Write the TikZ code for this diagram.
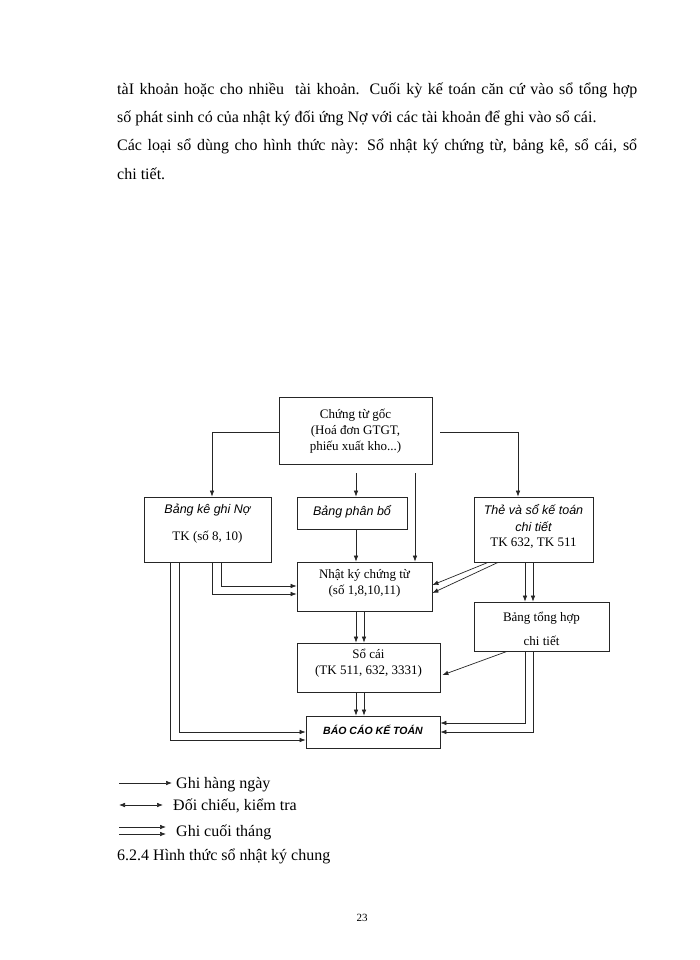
\documentclass[tikz,border=0pt]{standalone}
\usepackage{fontspec}
\setmainfont{Liberation Serif}
\newfontfamily\arialf{Liberation Sans}
\usetikzlibrary{arrows.meta,calc}
\begin{document}
\begin{tikzpicture}[x=1pt,y=-1pt,
  box/.style={draw=black!85, line width=0.8pt, inner sep=0pt},
  arr/.style={draw=black!85, line width=0.7pt, -{Latex[length=6pt,width=4.6pt]}},
  darr/.style={draw=black!85, line width=0.7pt, {Latex[length=6pt,width=4.6pt]}-{Latex[length=6pt,width=4.6pt]}},
  txt/.style={inner sep=0pt, align=center, font=\fontsize{13}{16}\selectfont},
  itx/.style={inner sep=0pt, align=center, font=\arialf\itshape\fontsize{12.5}{17}\selectfont},
  body/.style={inner sep=0pt, anchor=base west, font=\fontsize{16}{18}\selectfont}]
\useasboundingbox[fill=white] (0,0) rectangle (700,960);

% body text
\node[body] (p1) at (117,95) {\makebox[520pt][s]{tàI khoản hoặc cho nhiều\ \ tài khoản. Cuối kỳ kế toán căn cứ vào sổ tổng hợp}};
\node[body] (p2) at (117,123) {số phát sinh có của nhật ký đối ứng Nợ với các tài khoản để ghi vào sổ cái.};
\node[body] (p3) at (117,151) {\makebox[520pt][s]{Các loại sổ dùng cho hình thức này: Sổ nhật ký chứng từ, bảng kê, sổ cái, sổ}};
\node[body] (p4) at (117,179) {chi tiết.};

% boxes
\node[box, minimum width=153pt, minimum height=67pt] (ct) at (355.5,430.5) {};
\node[box, minimum width=127pt, minimum height=65pt] (bk) at (207.5,529.5) {};
\node[box, minimum width=110pt, minimum height=32pt] (pb) at (352,513) {};
\node[box, minimum width=119pt, minimum height=65pt] (the) at (533.5,529.5) {};
\node[box, minimum width=135pt, minimum height=49pt] (nk) at (364.5,586.5) {};
\node[box, minimum width=135pt, minimum height=49pt] (th) at (541.5,626.5) {};
\node[box, minimum width=143pt, minimum height=49pt] (sc) at (368.5,667.5) {};
\node[box, minimum width=134pt, minimum height=32pt] (bc) at (373,732) {};

% box texts
\node[txt] (ctt) at (355.5,431.5) {Chứng từ gốc\\(Hoá đơn GTGT,\\phiếu xuất kho...)};
\node[itx] (bkt1) at (207.5,510) {Bảng kê ghi Nợ};
\node[txt] (bkt2) at (207.5,537) {TK (số 8, 10)};
\node[itx] (pbt) at (352,512) {Bảng phân bổ};
\node[itx] (thet1) at (533.5,510) {Thẻ và sổ kế toán};
\node[itx] (thet2) at (533.5,527) {chi tiết};
\node[txt] (thet3) at (533.5,543) {TK 632, TK 511};
\node[txt] (nkt) at (364.5,583.5) {Nhật ký chứng từ\\(số 1,8,10,11)};
\node[txt] (tht1) at (541.5,618) {Bảng tổng hợp};
\node[txt] (tht2) at (541.5,641) {chi tiết};
\node[txt] (sct) at (368.5,663.5) {Sổ cái\\(TK 511, 632, 3331)};
\node[inner sep=0pt, font=\arialf\bfseries\itshape\fontsize{10.5}{12}\selectfont] (bct) at (373,729.5) {BÁO CÁO KẾ TOÁN};

% connectors from Chung tu goc
\draw[arr] ([yshift=-1.5pt]ct.west) -| ([xshift=4.5pt]bk.north);
\draw[arr] ([xshift=8pt,yshift=-1.5pt]ct.east) -| ([xshift=-15.5pt]the.north);
\draw[arr] ([xshift=0.5pt,yshift=-9pt]ct.south) -- ([xshift=4pt]pb.north);
\draw[arr] ([xshift=59.5pt,yshift=-9pt]ct.south) -- ([xshift=50.5pt]nk.north);

% Bang phan bo -> Nhat ky
\draw[arr] ([xshift=4pt]pb.south) -- ([xshift=-8.5pt]nk.north);

% Bang ke -> Nhat ky (double)
\draw[arr] ([xshift=4.5pt]bk.south) |- ([yshift=-7.5pt]nk.west);
\draw[arr] ([xshift=13.5pt]bk.south) |- ([yshift=0.5pt]nk.west);

% Bang ke -> Bao cao (double)
\draw[arr] ([xshift=-37.5pt]bk.south) |- ([yshift=-8pt]bc.west);
\draw[arr] ([xshift=-28.5pt]bk.south) |- (bc.west);

% The -> Nhat ky (double diagonal)
\draw[arr] ([xshift=-45.5pt]the.south) -- ([yshift=1.5pt]nk.east);
\draw[arr] ([xshift=-35.5pt]the.south) -- ([yshift=-6.5pt]nk.east);

% The -> Bang tong hop (double)
\draw[arr] ([xshift=-8.5pt]the.south) -- ([xshift=-16.5pt]th.north);
\draw[arr] ([xshift=-0.5pt]the.south) -- ([xshift=-8.5pt]th.north);

% Bang tong hop -> So cai
\draw[arr] ([xshift=-34.5pt]th.south) -- ([xshift=2pt,yshift=-7.5pt]sc.east);

% Bang tong hop -> Bao cao (double)
\draw[arr] ([xshift=-16.5pt]th.south) |- ([yshift=9pt]bc.east);
\draw[arr] ([xshift=-8.5pt]th.south) |- (bc.east);

% Nhat ky -> So cai (double)
\draw[arr] ([xshift=-8.5pt]nk.south) -- ([xshift=-12.5pt]sc.north);
\draw[arr] ([xshift=-0.5pt]nk.south) -- ([xshift=-4.5pt]sc.north);

% So cai -> Bao cao (double)
\draw[arr] ([xshift=-12.5pt]sc.south) -- ([xshift=-17pt]bc.north);
\draw[arr] ([xshift=-4.5pt]sc.south) -- ([xshift=-9pt]bc.north);

% legend
\coordinate (g1a) at (119,783); \coordinate (g1b) at (172,783);
\draw[arr] (g1a) -- (g1b);
\node[body] (g1) at (176,788) {Ghi hàng ngày};
\coordinate (g2a) at (119,805); \coordinate (g2b) at (163,805);
\draw[darr] (g2a) -- (g2b);
\node[body] (g2) at (173,810) {Đối chiếu, kiểm tra};
\coordinate (g3a) at (119,827); \coordinate (g3b) at (166,827);
\coordinate (g3c) at (119,834); \coordinate (g3d) at (166,834);
\draw[arr] (g3a) -- (g3b);
\draw[arr] (g3c) -- (g3d);
\node[body] (g3) at (176,836) {Ghi cuối tháng};
\node[body] (h) at (117,860) {6.2.4 Hình thức sổ nhật ký chung};

% page number
\node[inner sep=0pt, font=\fontsize{11}{13}\selectfont] (pg) at (362,918) {23};
\end{tikzpicture}
\end{document}
